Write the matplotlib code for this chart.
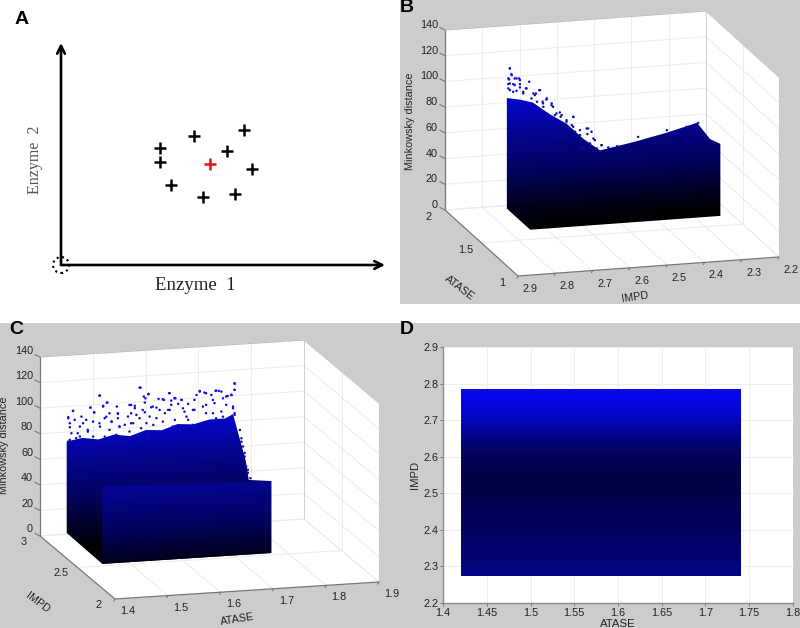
import numpy as np
import matplotlib
matplotlib.use("Agg")
import matplotlib.pyplot as plt
from matplotlib.patches import Circle, Polygon, Rectangle

plt.rcParams['font.family'] = ['Liberation Sans', 'DejaVu Sans']

# panel A, distances from the origin of the sketch
enzyme1 = [99.3, 99.3, 110, 141.7, 173.7, 190.7, 165.7, 182.7, 133]
enzyme2 = [117.3, 103.3, 80, 67.7, 71, 95.7, 113.7, 135, 128.7]
centre1 = [148.7]
centre2 = [100.7]

# colour against Minkowsky distance
z_levels = [0, 12, 40, 70, 100, 140]
blue_levels = [5, 25, 95, 145, 215, 255]

# panel B outline of the cloud
b_impd = [2.785, 2.75, 2.715, 2.67, 2.624, 2.58, 2.535, 2.447, 2.356, 2.275, 2.275, 2.275, 2.275, 2.785, 2.785]
b_atase = [1.74, 1.74, 1.74, 1.74, 1.74, 1.74, 1.74, 1.74, 1.74, 1.74, 1.56, 1.42, 1.42, 1.42, 1.74]
b_dist = [98, 96, 93, 83, 74.5, 62, 52, 56.5, 62, 68, 64.5, 68, 12, 12, 12]
# panel B loose points above the outline (ATASE = 1.74)
b_pts_impd = [2.777, 2.772, 2.781, 2.759, 2.750, 2.777, 2.764, 2.781, 2.750, 2.732, 2.696, 2.768,
              2.741, 2.710, 2.719, 2.678, 2.665, 2.688, 2.652, 2.638, 2.607, 2.625, 2.620, 2.607,
              2.571, 2.589, 2.558, 2.549, 2.585, 2.531, 2.562, 2.433, 2.356, 2.303, 2.272,
              2.777, 2.773, 2.779, 2.764, 2.752, 2.725, 2.781, 2.768, 2.750, 2.734, 2.698, 2.777,
              2.759, 2.741, 2.714, 2.707, 2.679, 2.689, 2.665, 2.661, 2.704, 2.687, 2.643, 2.656,
              2.679, 2.607, 2.625, 2.641, 2.611, 2.589, 2.567, 2.569, 2.602, 2.553, 2.585, 2.531,
              2.562, 2.580, 2.513, 2.489, 2.544]
b_pts_dist = [120.9, 115.6, 113.2, 112.7, 111.2, 109.2, 107.6, 105.4, 105.5, 104.4, 102.3, 102.5,
              100.7, 98.7, 96.3, 95.5, 91.3, 91.8, 83.2, 81.6, 79.6, 77.4, 70.9, 71.9,
              69.8, 65, 67, 60.3, 54.6, 56, 58, 60.3, 63.9, 65.4, 67.8,
              120.9, 116.3, 112.3, 112.8, 112.5, 109.4, 108.8, 108.5, 108.1, 104.4, 102.3, 104,
              103.1, 101.9, 100.1, 99.9, 94.6, 93.1, 89.9, 88.6, 93.4, 89.1, 83.8, 82,
              83.8, 79.6, 76.1, 80.4, 73.3, 68.9, 69.7, 65.4, 67.9, 61.6, 61, 56,
              56.6, 55.2, 53.8, 54.3, 53.7]

# panel C outline of the cloud, back part
c_atase = [1.42, 1.45, 1.48, 1.51, 1.54, 1.57, 1.60, 1.63, 1.66, 1.69, 1.72, 1.735, 1.74, 1.74, 1.735, 1.735, 1.735, 1.415, 1.42]
c_impd = [2.785, 2.785, 2.785, 2.785, 2.785, 2.785, 2.785, 2.785, 2.785, 2.785, 2.785, 2.785, 2.65, 2.61, 2.275, 2.275, 2.275, 2.275, 2.785]
c_dist = [84, 86, 84, 87, 85, 89, 88, 92, 91, 94, 94, 97, 67, 54, 69.8, 13.5, 13.5, 13.5, 12.5]
# panel C front face (IMPD = 2.275)
c_front_atase = [1.415, 1.735, 1.735, 1.415]
c_front_dist = [73.7, 69.8, 13.5, 13.5]
# panel C loose points (IMPD = 2.785)
c_pts_atase = [1.423, 1.432, 1.465, 1.482, 1.496, 1.489, 1.517, 1.495, 1.505, 1.472, 1.451, 1.426,
               1.460, 1.441, 1.558, 1.575, 1.569, 1.615, 1.624, 1.602, 1.637, 1.666, 1.672, 1.684,
               1.703, 1.713, 1.697, 1.738, 1.738, 1.732, 1.725, 1.735, 1.678, 1.659, 1.640, 1.618,
               1.612, 1.583, 1.564, 1.542, 1.549, 1.536, 1.590, 1.571, 1.546, 1.520, 1.482, 1.438,
               1.423, 1.647, 1.697, 1.716, 1.738, 1.751, 1.757, 1.760, 1.763,
               1.423, 1.432, 1.465, 1.483, 1.497, 1.489, 1.515, 1.539, 1.549, 1.560, 1.575, 1.566,
               1.568, 1.580, 1.590, 1.614, 1.594, 1.604, 1.618, 1.626, 1.638, 1.672, 1.681, 1.694,
               1.702, 1.708, 1.738, 1.738, 1.722, 1.732, 1.716, 1.662, 1.650, 1.631, 1.615, 1.596,
               1.568, 1.552, 1.542, 1.517, 1.501, 1.472, 1.448, 1.435, 1.426, 1.457, 1.470, 1.492,
               1.505, 1.517, 1.530, 1.542, 1.558, 1.577, 1.606, 1.625, 1.643, 1.662, 1.684, 1.700,
               1.722, 1.735, 1.738, 1.684, 1.713, 1.650, 1.445, 1.429, 1.460, 1.483, 1.501, 1.520,
               1.539, 1.561, 1.584, 1.602, 1.621, 1.426, 1.445, 1.470, 1.492, 1.514, 1.555, 1.574,
               1.596, 1.634, 1.659, 1.703, 1.748, 1.751, 1.754, 1.757, 1.763, 1.768]
c_pts_dist = [102.9, 107.6, 109.3, 118.2, 112.4, 109.5, 103, 101.4, 97.3, 105.5, 97.4, 95,
              90.6, 89.9, 122.4, 116.8, 113.8, 116.6, 112.4, 112.2, 110.7, 113.8, 116.8, 114.7,
              116.3, 115.2, 109.1, 120.6, 115.9, 112.1, 111.5, 102.9, 104.4, 102.3, 104.1, 107.4,
              103.6, 106.9, 104.8, 109.3, 106.6, 100.4, 97.7, 94.3, 94.9, 93, 96.6, 86.1,
              83.8, 97.4, 98.7, 95.5, 96.3, 75, 66, 55.3, 50.3,
              102.1, 107.6, 109.3, 118.2, 112.4, 110, 108.8, 109.4, 108.4, 122.4, 117.1, 115.2,
              110.5, 106.5, 106, 116.6, 112.7, 111.6, 110.7, 112.3, 110.7, 116.3, 115.3, 113.1,
              116, 115.9, 121.1, 115.9, 111.1, 112.1, 109.9, 110.1, 107.3, 107.8, 103.5, 104,
              102.9, 101.3, 102.8, 103.5, 103.9, 105.2, 102.7, 100.5, 98.1, 99.9, 98.2, 100.3,
              97.3, 99.6, 94.1, 95, 98.5, 99.3, 101.2, 95.4, 101.4, 102.3, 105.6, 106.5,
              104.6, 101.6, 97.6, 99.1, 99.6, 94.8, 95, 90.2, 92, 94, 90.9, 93,
              88.6, 90.6, 92.6, 94.7, 90.3, 85.1, 87.2, 86.5, 85.9, 86.7, 85.6, 83.8,
              87.1, 87.4, 90.6, 94.6, 84.3, 77.7, 71.2, 63.2, 52.7, 46]

# panel D
d_atase = [1.42, 1.74]
d_impd = [2.275, 2.3, 2.4, 2.5, 2.55, 2.6, 2.65, 2.7, 2.75, 2.785]
d_blue = [140, 125, 95, 75, 70, 90, 125, 190, 225, 240]

z_ticks = [0, 20, 40, 60, 80, 100, 120, 140]
b_x_ticks = [2.9, 2.8, 2.7, 2.6, 2.5, 2.4, 2.3, 2.2]
b_y_ticks = [1, 1.5, 2]
c_x_ticks = [1.4, 1.5, 1.6, 1.7, 1.8, 1.9]
c_y_ticks = [2, 2.5, 3]
d_x_ticks = [1.4, 1.45, 1.5, 1.55, 1.6, 1.65, 1.7, 1.75, 1.8]
d_y_ticks = [2.2, 2.3, 2.4, 2.5, 2.6, 2.7, 2.8, 2.9]

TICK = 7.8
GREY = '#cccccc'


def make_proj(front, right, left, height, xlim, ylim, zmax):
    # flat matlab style view, floor corners and wall height in figure pixels
    def proj(x, y, z):
        x, y, z = np.asarray(x, float), np.asarray(y, float), np.asarray(z, float)
        fx = (x - xlim[0]) / (xlim[1] - xlim[0])
        fy = (y - ylim[0]) / (ylim[1] - ylim[0])
        px = front[0] + fx * (right[0] - front[0]) + fy * (left[0] - front[0])
        py = front[1] + fx * (right[1] - front[1]) + fy * (left[1] - front[1]) - z / zmax * height
        return px, py
    return proj


def blue_of(z):
    return np.interp(z, z_levels, blue_levels) / 255


def line3(ax, proj, a, b, color, lw, zorder=2):
    px, py = proj([a[0], b[0]], [a[1], b[1]], [a[2], b[2]])
    ax.plot(px, py, color=color, lw=lw, zorder=zorder, solid_capstyle='butt')


def draw_box(ax, proj, xlim, ylim, xticks, yticks):
    zm = z_ticks[-1]
    # white walls and floor
    outline = [(xlim[0], ylim[1], 0), (xlim[0], ylim[0], 0), (xlim[1], ylim[0], 0), (xlim[1], ylim[0], zm),
               (xlim[1], ylim[1], zm), (xlim[0], ylim[1], zm)]
    pts = [proj(*p) for p in outline]
    ax.add_patch(Polygon([(float(a), float(b)) for a, b in pts], fc='white', ec='none', zorder=1))
    for t in xticks:
        line3(ax, proj, (t, ylim[0], 0), (t, ylim[1], 0), '#ebebeb', 0.7)
        line3(ax, proj, (t, ylim[1], 0), (t, ylim[1], zm), '#ebebeb', 0.7)
    for t in yticks:
        line3(ax, proj, (xlim[0], t, 0), (xlim[1], t, 0), '#ebebeb', 0.7)
        line3(ax, proj, (xlim[1], t, 0), (xlim[1], t, zm), '#ebebeb', 0.7)
    for t in z_ticks:
        line3(ax, proj, (xlim[0], ylim[1], t), (xlim[1], ylim[1], t), '#ebebeb', 0.7)
        line3(ax, proj, (xlim[1], ylim[1], t), (xlim[1], ylim[0], t), '#ebebeb', 0.7)
    # frame
    line3(ax, proj, (xlim[0], ylim[1], zm), (xlim[1], ylim[1], zm), '#c0c0c0', 0.8)
    line3(ax, proj, (xlim[1], ylim[1], zm), (xlim[1], ylim[0], zm), '#c8c8c8', 0.8)
    line3(ax, proj, (xlim[1], ylim[0], zm), (xlim[1], ylim[0], 0), '#c8c8c8', 0.8)
    line3(ax, proj, (xlim[1], ylim[1], zm), (xlim[1], ylim[1], 0), '#d0d0d0', 0.7)
    line3(ax, proj, (xlim[0], ylim[1], 0), (xlim[0], ylim[1], zm), '#777777', 0.9)
    line3(ax, proj, (xlim[0], ylim[0], 0), (xlim[1], ylim[0], 0), '#777777', 0.9)
    line3(ax, proj, (xlim[0], ylim[0], 0), (xlim[0], ylim[1], 0), '#777777', 0.9)


def gradient_cloud(ax, proj, xx, yy, zz, floor_a, floor_b, zscale):
    # fill a projected outline with a colour that follows the height above one floor line
    px, py = proj(xx, yy, zz)
    (fx0, fy0), (fx1, fy1) = proj(*floor_a, 0), proj(*floor_b, 0)
    x0, x1 = int(px.min()) - 1, int(px.max()) + 2
    y0, y1 = int(py.min()) - 1, int(py.max()) + 2
    gx, gy = np.meshgrid(np.arange(x0, x1) + 0.5, np.arange(y0, y1) + 0.5)
    floor = fy0 + (gx - fx0) * (fy1 - fy0) / (fx1 - fx0)
    b = blue_of((floor - gy) / zscale)
    rgb = np.dstack([b * 0.03, b * 0.03, b])
    im = ax.imshow(rgb, extent=(x0, x1, y1, y0), aspect='auto', zorder=3, interpolation='nearest')
    shape = Polygon(np.column_stack([px, py]), closed=True, fc='none', ec='none', transform=ax.transData)
    ax.add_patch(shape)
    im.set_clip_path(shape)


def loose_points(ax, px, py, dist):
    ax.scatter(px, py, s=3.2, marker='o', lw=0, c=[(0.06, 0.06, max(blue_of(z), 0.66)) for z in dist], zorder=4)


fig = plt.figure(figsize=(8, 6.28), dpi=100)
ax = fig.add_axes([0, 0, 1, 1])
ax.axis('off')

ax.add_patch(Rectangle((400, 0), 400, 304, fc=GREY, ec='none', zorder=0))
ax.add_patch(Rectangle((0, 323), 400, 305, fc=GREY, ec='none', zorder=0))
ax.add_patch(Rectangle((400, 323), 400, 305, fc=GREY, ec='none', zorder=0))

#####################################################
# panel B
proj_b = make_proj((518, 276), (779, 257), (445, 210), 180, (2.9, 2.2), (1, 2), 140)
draw_box(ax, proj_b, (2.9, 2.2), (1, 2), b_x_ticks, b_y_ticks)
gradient_cloud(ax, proj_b, b_impd, b_atase, b_dist, (2.785, 1.74), (2.275, 1.74), 180 / 140)
px, py = proj_b(b_pts_impd, np.full(len(b_pts_impd), 1.74), b_pts_dist)
loose_points(ax, px, py, b_pts_dist)

for t in z_ticks:
    px, py = proj_b(2.9, 2, t)
    ax.plot([px - 5, px], [py - 2.5, py], color='#777777', lw=0.8, zorder=2)
    ax.text(px - 7, py - 5, str(t), ha='right', va='center', fontsize=TICK, color='#222222')
for t in b_x_ticks:
    px, py = proj_b(t, 1, 0)
    ax.plot([px, px - 1], [py, py + 2], color='#777777', lw=0.8, zorder=2)
    ax.text(px + 12, py + 13, str(t), ha='center', va='center', fontsize=TICK, color='#222222')
for t in b_y_ticks:
    px, py = proj_b(2.9, t, 0)
    ax.text(px - 16, py + 7, str(t), ha='center', va='center', fontsize=TICK, color='#222222')
ax.text(410, 121, 'Minkowsky distance', rotation=90, ha='center', va='center', fontsize=TICK, color='#222222')
ax.text(459, 288, 'ATASE', rotation=-37, ha='center', va='center', fontsize=TICK, color='#222222')
ax.text(635, 297, 'IMPD', rotation=8, ha='center', va='center', fontsize=TICK, color='#222222')

#####################################################
# panel C
proj_c = make_proj((115, 599), (379, 582), (40, 536), 179, (1.4, 1.9), (2, 3), 140)
draw_box(ax, proj_c, (1.4, 1.9), (2, 3), c_x_ticks, c_y_ticks)
gradient_cloud(ax, proj_c, c_atase, c_impd, c_dist, (1.42, 2.785), (1.74, 2.785), 179 / 140)
gradient_cloud(ax, proj_c, c_front_atase, np.full(4, 2.275), c_front_dist, (1.42, 2.275), (1.74, 2.275), 179 / 140)
px, py = proj_c(c_pts_atase, np.full(len(c_pts_atase), 2.785), c_pts_dist)
loose_points(ax, px, py, c_pts_dist)

for t in z_ticks:
    px, py = proj_c(1.4, 3, t)
    ax.plot([px - 5, px], [py - 2.5, py], color='#777777', lw=0.8, zorder=2)
    ax.text(px - 7, py - 6.5, str(t), ha='right', va='center', fontsize=TICK, color='#222222')
for t in c_x_ticks:
    px, py = proj_c(t, 2, 0)
    ax.plot([px, px - 1], [py, py + 2], color='#777777', lw=0.8, zorder=2)
    ax.text(px + 13, py + 12, str(t), ha='center', va='center', fontsize=TICK, color='#222222')
for t in c_y_ticks:
    px, py = proj_c(1.4, t, 0)
    ax.text(px - 16, py + 6, str(t), ha='center', va='center', fontsize=TICK, color='#222222')
ax.text(4, 445, 'Minkowsky distance', rotation=90, ha='center', va='center', fontsize=TICK, color='#222222')
ax.text(38, 603, 'IMPD', rotation=-37, ha='center', va='center', fontsize=TICK, color='#222222')
ax.text(237, 619, 'ATASE', rotation=9, ha='center', va='center', fontsize=TICK, color='#222222')

#####################################################
# panel letters
ax.text(15, 20, 'A', fontsize=14, fontweight='bold', ha='left', va='center', color='black')
ax.text(400, 8, 'B', fontsize=14, fontweight='bold', ha='left', va='center', color='black')
ax.text(9, 330, 'C', fontsize=14, fontweight='bold', ha='left', va='center', color='black', zorder=5)
ax.text(400, 329, 'D', fontsize=14, fontweight='bold', ha='left', va='center', color='black', zorder=5)

ax.set_xlim(0, 800)
ax.set_ylim(628, 0)

#####################################################
# panel A, own axes with the origin of the sketch at (61, 265)
ax_a = fig.add_axes([61 / 800, 1 - 265 / 628, 324 / 800, 222 / 628])
ax_a.set_xlim(0, 324)
ax_a.set_ylim(0, 222)
ax_a.axis('off')
arrow = dict(arrowstyle='->', lw=1.9, color='black', mutation_scale=14, shrinkA=0, shrinkB=0)
ax_a.annotate('', xy=(324, 0), xytext=(0, 0), arrowprops=arrow, annotation_clip=False)
ax_a.annotate('', xy=(0, 222), xytext=(0, 0), arrowprops=arrow, annotation_clip=False)
ax_a.add_patch(Circle((0, 0), 8, fc='none', ec='black', ls=':', lw=1.5, clip_on=False))
ax_a.plot(enzyme1, enzyme2, '+', color='black', ms=8.5, mew=1.8, ls='none')
ax_a.plot(centre1, centre2, '+', color='#ee1111', ms=8.5, mew=1.8, ls='none')
ax_a.text(134, -20, 'Enzyme  1', family='Liberation Serif', fontsize=13.5, ha='center', va='center', color='#222222')
ax_a.text(-26, 105, 'Enzyme  2', family='Liberation Serif', fontsize=11.5, rotation=90, ha='center', va='center', color='#555555')

#####################################################
# panel D, plain 2D axes
ax_d = fig.add_axes([443 / 800, 1 - 603 / 628, 350 / 800, 256 / 628])
d_rows = np.interp(np.linspace(d_impd[0], d_impd[-1], 200), d_impd, d_blue)[:, None] / 255
d_rgb = np.dstack([d_rows * 0.03, d_rows * 0.03, d_rows])
ax_d.imshow(d_rgb, extent=(d_atase[0], d_atase[1], d_impd[0], d_impd[-1]), origin='lower', aspect='auto', zorder=3)
ax_d.set_xlim(1.4, 1.8)
ax_d.set_ylim(2.2, 2.9)
ax_d.set_xticks(d_x_ticks)
ax_d.set_xticklabels([str(t) for t in d_x_ticks], fontsize=TICK, color='#222222')
ax_d.set_yticks(d_y_ticks)
ax_d.set_yticklabels([str(t) for t in d_y_ticks], fontsize=TICK, color='#222222')
ax_d.tick_params(length=2, width=0.7, color='#777777', pad=1.5)
ax_d.grid(True, color='#ededed', lw=0.7)
ax_d.set_axisbelow(True)
for side in ['top', 'right']:
    ax_d.spines[side].set_visible(False)
for side in ['left', 'bottom']:
    ax_d.spines[side].set_color('#8a8a8a')
    ax_d.spines[side].set_linewidth(1)
ax_d.set_xlabel('ATASE', fontsize=TICK + 0.4, color='#222222', labelpad=0.5)
ax_d.set_ylabel('IMPD', fontsize=TICK + 0.4, color='#222222', labelpad=2)

fig.savefig('out.png', dpi=100)
